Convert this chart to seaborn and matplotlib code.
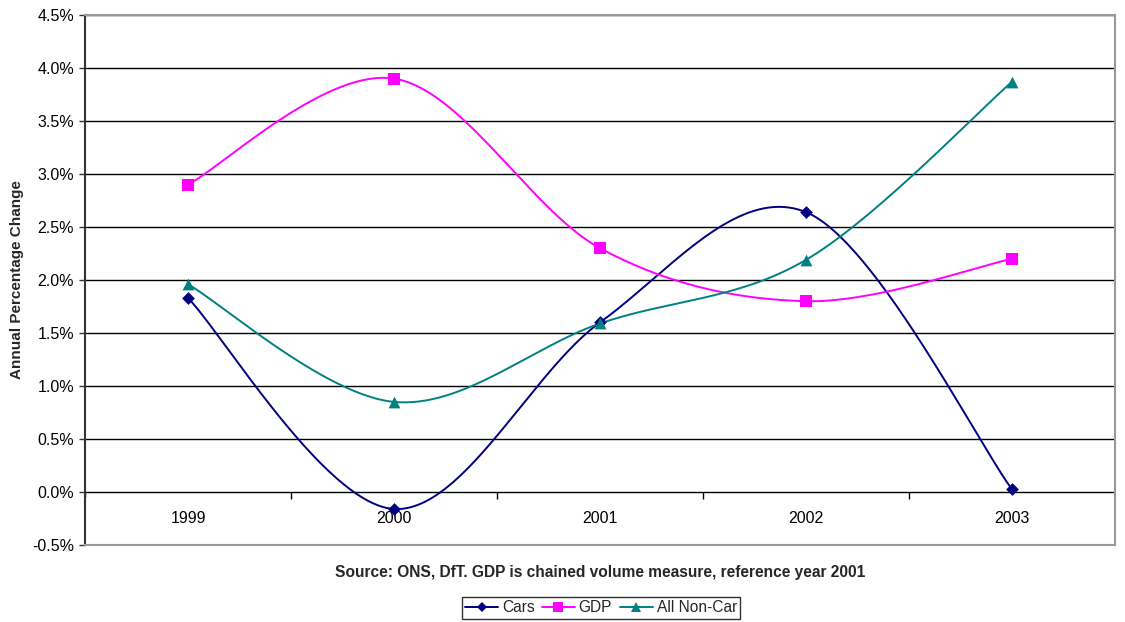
import numpy as np
import pandas as pd
import matplotlib
matplotlib.use("Agg")
import matplotlib.pyplot as plt
from matplotlib.lines import Line2D
from matplotlib.ticker import FuncFormatter, MultipleLocator
import seaborn as sns

years = ["1999", "2000", "2001", "2002", "2003"]
cars = [1.83, -0.16, 1.60, 2.64, 0.025]
gdp = [2.90, 3.90, 2.30, 1.80, 2.20]
non_car = [1.96, 0.85, 1.59, 2.19, 3.87]

series_names = ["Cars", "GDP", "All Non-Car"]
series_values = [cars, gdp, non_car]
colors = {"Cars": "#000080", "GDP": "#FF00FF", "All Non-Car": "#008080"}
markers = {"Cars": "D", "GDP": "s", "All Non-Car": "^"}
marker_sizes = {"Cars": 6.5, "GDP": 8, "All Non-Car": 8.5}


def smooth(xs, ys, n=60):
    """Cubic Bezier smoothing through every point (Catmull-Rom control points)."""
    pts = np.column_stack([xs, ys]).astype(float)
    ext = np.vstack([pts[0], pts, pts[-1]])
    out = []
    t = np.linspace(0, 1, n)[:, None]
    for i in range(1, len(ext) - 2):
        p0, p1, p2, p3 = ext[i - 1], ext[i], ext[i + 1], ext[i + 2]
        c1 = p1 + (p2 - p0) / 6.0
        c2 = p2 - (p3 - p1) / 6.0
        seg = ((1 - t) ** 3) * p1 + 3 * ((1 - t) ** 2) * t * c1 + 3 * (1 - t) * t ** 2 * c2 + t ** 3 * p2
        out.append(seg if i == 1 else seg[1:])
    return np.vstack(out)


x_pos = np.arange(len(years))

curve_frames, point_frames = [], []
for name, vals in zip(series_names, series_values):
    curve = smooth(x_pos, vals)
    curve_frames.append(pd.DataFrame({"x": curve[:, 0], "y": curve[:, 1], "series": name}))
    point_frames.append(pd.DataFrame({"x": x_pos, "y": vals, "series": name}))
curves = pd.concat(curve_frames, ignore_index=True)
points = pd.concat(point_frames, ignore_index=True)

sns.set_theme(style="white")
plt.rcParams["font.family"] = ["Liberation Sans", "DejaVu Sans"]

fig = plt.figure(figsize=(11.25, 6.22), dpi=100)
ax = fig.add_axes([85 / 1125, 1 - 545 / 622, (1115 - 85) / 1125, (545 - 15) / 622])

# horizontal gridlines
for yv in np.arange(-0.5, 4.51, 0.5):
    ax.axhline(yv, color="black", lw=1.0, zorder=1)

sns.lineplot(data=curves, x="x", y="y", hue="series", palette=colors, sort=False,
             estimator=None, lw=1.4, legend=False, ax=ax, zorder=3)
for name in series_names:
    sub = points[points["series"] == name]
    sns.scatterplot(data=sub, x="x", y="y", color=colors[name], marker=markers[name],
                    s=marker_sizes[name] ** 2, edgecolor=colors[name], linewidth=0,
                    legend=False, ax=ax, zorder=4)

ax.set_xlim(-0.5, len(years) - 0.5)
ax.set_ylim(-0.5, 4.5)
ax.yaxis.set_major_locator(MultipleLocator(0.5))
ax.yaxis.set_major_formatter(FuncFormatter(lambda v, _: f"{v:.1f}%"))
ax.tick_params(axis="y", left=True, length=4, width=1, color="#333333",
               labelsize=11.5, pad=4, labelcolor="black")
ax.set_xticks([])
ax.set_xlabel("")
ax.set_ylabel("Annual Percentage Change", fontsize=11, fontweight="bold", labelpad=6)

# category labels beneath the zero line and separators between categories
for xi, label in zip(x_pos, years):
    ax.text(xi, -0.25, label, ha="center", va="center", fontsize=11.5, color="black")
ax.vlines(np.arange(0.5, len(years) - 0.5, 1.0), -0.07, 0, color="black", lw=1, zorder=2)
ax.vlines([-0.5], -0.05, 0, color="black", lw=1, zorder=2)

for side in ["top", "right", "bottom"]:
    ax.spines[side].set_color("#999999")
    ax.spines[side].set_linewidth(1.5)
ax.spines["left"].set_color("#333333")
ax.spines["left"].set_linewidth(1.5)

fig.text(600 / 1125, 1 - 572 / 622, "Source: ONS, DfT. GDP is chained volume measure, reference year 2001",
         ha="center", va="center", fontsize=11.2, fontweight="bold")

handles = [Line2D([0], [0], color=colors[n], marker=markers[n], lw=1.4,
                  markersize=marker_sizes[n] - 1, markeredgewidth=0) for n in series_names]
leg = fig.legend(handles, series_names, loc="center", bbox_to_anchor=(601 / 1125, 1 - 608 / 622),
                 ncol=3, frameon=True, fontsize=11.2, handlelength=2.1, handletextpad=0.25,
                 columnspacing=0.5, borderpad=0.2, fancybox=False, borderaxespad=0)
leg.get_frame().set_edgecolor("black")
leg.get_frame().set_linewidth(1.0)

fig.savefig("out.png", dpi=100, facecolor="white")
